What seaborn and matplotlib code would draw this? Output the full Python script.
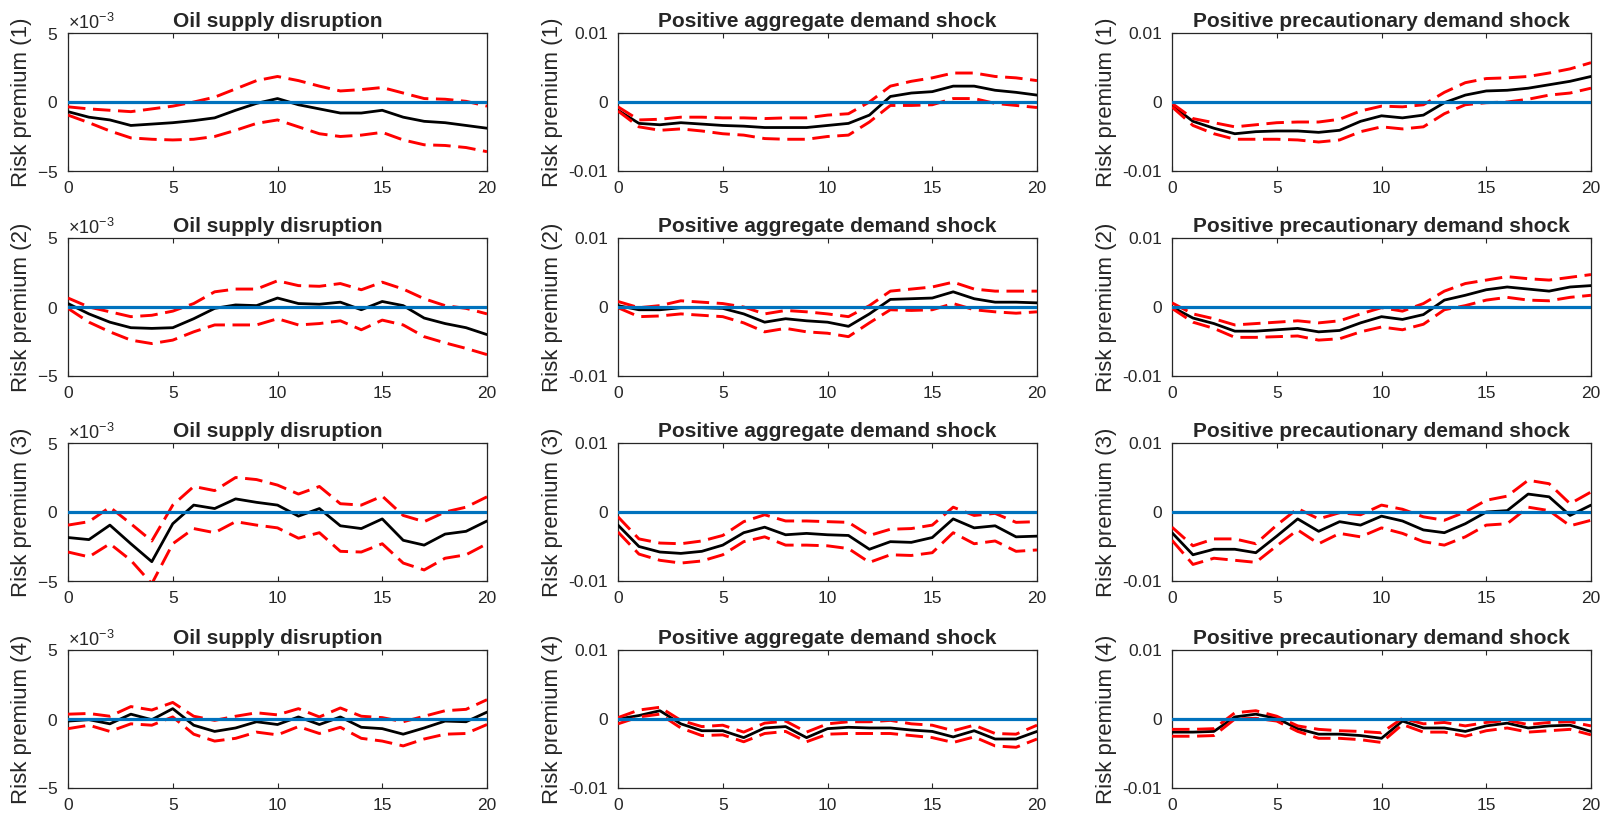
import numpy as np
import pandas as pd
import matplotlib
matplotlib.use("Agg")
import matplotlib.pyplot as plt
import seaborn as sns
from matplotlib.ticker import ScalarFormatter

# ---------------- data ----------------
horizons = list(range(21))
shock_titles = ["Oil supply disruption",
                "Positive aggregate demand shock",
                "Positive precautionary demand shock"]
row_labels = ["Risk premium (1)", "Risk premium (2)", "Risk premium (3)", "Risk premium (4)"]
x_ticks = [0, 5, 10, 15, 20]
oil_yticks = [-5e-3, 0.0, 5e-3]
dem_yticks = [-0.01, 0.0, 0.01]
dem_yticklabels = ["-0.01", "0", "0.01"]

# Row 1
oil1_mid = [-0.7e-3, -1.1e-3, -1.3e-3, -1.7e-3, -1.6e-3, -1.5e-3, -1.35e-3, -1.15e-3, -0.6e-3, -0.1e-3, 0.25e-3,
            -0.2e-3, -0.5e-3, -0.8e-3, -0.8e-3, -0.6e-3, -1.1e-3, -1.4e-3, -1.5e-3, -1.7e-3, -1.9e-3]
oil1_up = [-0.35e-3, -0.5e-3, -0.6e-3, -0.7e-3, -0.5e-3, -0.3e-3, 0.0, 0.35e-3, 0.95e-3, 1.55e-3, 1.85e-3,
           1.55e-3, 1.15e-3, 0.8e-3, 0.9e-3, 1.05e-3, 0.65e-3, 0.25e-3, 0.2e-3, 0.05e-3, -0.3e-3]
oil1_lo = [-0.95e-3, -1.5e-3, -2.1e-3, -2.6e-3, -2.7e-3, -2.75e-3, -2.7e-3, -2.5e-3, -2.05e-3, -1.55e-3, -1.3e-3,
           -1.8e-3, -2.3e-3, -2.5e-3, -2.4e-3, -2.2e-3, -2.75e-3, -3.1e-3, -3.15e-3, -3.3e-3, -3.6e-3]
agg1_mid = [-0.0012, -0.0031, -0.0033, -0.0030, -0.0032, -0.0034, -0.0035, -0.0037, -0.0037, -0.0037, -0.0034,
            -0.0031, -0.0019, 0.0008, 0.0013, 0.0015, 0.0023, 0.0023, 0.0017, 0.0014, 0.0010]
agg1_up = [-0.0007, -0.0026, -0.0025, -0.0022, -0.0022, -0.0023, -0.0023, -0.0024, -0.0023, -0.0023, -0.0019,
           -0.0017, 0.0000, 0.0023, 0.0030, 0.0035, 0.0042, 0.0042, 0.0037, 0.0035, 0.0031]
agg1_lo = [-0.0013, -0.0036, -0.0041, -0.0039, -0.0042, -0.0046, -0.0048, -0.0053, -0.0054, -0.0054, -0.0050,
           -0.0048, -0.0029, -0.0005, -0.0005, -0.0004, 0.0005, 0.0005, -0.0002, -0.0005, -0.0008]
prec1_mid = [-0.0005, -0.0028, -0.0038, -0.0046, -0.0043, -0.0042, -0.0042, -0.0044, -0.0041, -0.0028, -0.0020,
             -0.0023, -0.0019, -0.0001, 0.0010, 0.0016, 0.0017, 0.0020, 0.0025, 0.0030, 0.0037]
prec1_up = [-0.0002, -0.0024, -0.0030, -0.0036, -0.0033, -0.0030, -0.0029, -0.0029, -0.0025, -0.0013, -0.0006,
            -0.0007, -0.0004, 0.0014, 0.0028, 0.0034, 0.0035, 0.0037, 0.0042, 0.0048, 0.0057]
prec1_lo = [-0.0007, -0.0034, -0.0046, -0.0054, -0.0054, -0.0054, -0.0055, -0.0058, -0.0055, -0.0043, -0.0036,
            -0.0039, -0.0036, -0.0017, -0.0004, -0.0001, 0.0000, 0.0004, 0.0010, 0.0013, 0.0020]

# Row 2
oil2_mid = [0.25e-3, -0.5e-3, -1.1e-3, -1.5e-3, -1.55e-3, -1.5e-3, -0.85e-3, -0.1e-3, 0.15e-3, 0.1e-3, 0.65e-3,
            0.25e-3, 0.2e-3, 0.35e-3, -0.2e-3, 0.4e-3, 0.1e-3, -0.8e-3, -1.2e-3, -1.5e-3, -2.0e-3]
oil2_up = [0.65e-3, 0.0, -0.35e-3, -0.7e-3, -0.6e-3, -0.3e-3, 0.25e-3, 1.1e-3, 1.3e-3, 1.3e-3, 1.9e-3,
           1.55e-3, 1.5e-3, 1.7e-3, 1.25e-3, 1.8e-3, 1.3e-3, 0.6e-3, 0.1e-3, -0.1e-3, -0.5e-3]
oil2_lo = [-0.1e-3, -1.1e-3, -1.8e-3, -2.4e-3, -2.65e-3, -2.4e-3, -1.8e-3, -1.3e-3, -1.3e-3, -1.3e-3, -0.85e-3,
           -1.3e-3, -1.2e-3, -1.0e-3, -1.65e-3, -0.95e-3, -1.3e-3, -2.15e-3, -2.6e-3, -3.0e-3, -3.45e-3]
agg2_mid = [0.0002, -0.0004, -0.0004, -0.0001, -0.0001, -0.0002, -0.0010, -0.0022, -0.0017, -0.0020, -0.0022,
            -0.0028, -0.0010, 0.0011, 0.0012, 0.0013, 0.0022, 0.0012, 0.0007, 0.0007, 0.0006]
agg2_up = [0.0008, -0.0001, 0.0002, 0.0009, 0.0007, 0.0005, 0.0000, -0.0010, -0.0005, -0.0007, -0.0010,
           -0.0014, 0.0002, 0.0023, 0.0026, 0.0029, 0.0036, 0.0026, 0.0023, 0.0023, 0.0023]
agg2_lo = [-0.0001, -0.0014, -0.0013, -0.0010, -0.0012, -0.0014, -0.0023, -0.0036, -0.0031, -0.0036, -0.0038,
           -0.0043, -0.0023, -0.0004, -0.0005, -0.0004, 0.0005, -0.0004, -0.0007, -0.0009, -0.0007]
prec2_mid = [0.0000, -0.0016, -0.0024, -0.0035, -0.0035, -0.0033, -0.0031, -0.0036, -0.0034, -0.0023, -0.0014,
             -0.0018, -0.0011, 0.0010, 0.0017, 0.0025, 0.0029, 0.0026, 0.0023, 0.0029, 0.0031]
prec2_up = [0.0006, -0.0010, -0.0017, -0.0026, -0.0024, -0.0022, -0.0020, -0.0023, -0.0020, -0.0010, -0.0001,
            -0.0006, 0.0005, 0.0023, 0.0034, 0.0039, 0.0044, 0.0041, 0.0039, 0.0043, 0.0047]
prec2_lo = [-0.0002, -0.0022, -0.0031, -0.0044, -0.0044, -0.0043, -0.0042, -0.0048, -0.0046, -0.0036, -0.0029,
            -0.0033, -0.0025, -0.0004, 0.0002, 0.0010, 0.0014, 0.0010, 0.0009, 0.0014, 0.0017]

# Row 3
oil3_mid = [-1.85e-3, -2.0e-3, -0.95e-3, -2.3e-3, -3.6e-3, -0.85e-3, 0.5e-3, 0.25e-3, 0.95e-3, 0.7e-3, 0.5e-3,
            -0.3e-3, 0.25e-3, -1.0e-3, -1.2e-3, -0.5e-3, -2.05e-3, -2.4e-3, -1.6e-3, -1.4e-3, -0.65e-3]
oil3_up = [-0.95e-3, -0.7e-3, 0.35e-3, -0.85e-3, -2.1e-3, 0.5e-3, 1.85e-3, 1.55e-3, 2.5e-3, 2.35e-3, 1.95e-3,
           1.3e-3, 1.85e-3, 0.6e-3, 0.5e-3, 1.15e-3, -0.25e-3, -0.7e-3, 0.0, 0.35e-3, 1.1e-3]
oil3_lo = [-2.9e-3, -3.25e-3, -2.3e-3, -3.5e-3, -5.2e-3, -2.3e-3, -1.2e-3, -1.5e-3, -0.7e-3, -0.95e-3, -1.15e-3,
           -1.9e-3, -1.5e-3, -2.85e-3, -2.9e-3, -2.3e-3, -3.7e-3, -4.2e-3, -3.35e-3, -3.1e-3, -2.3e-3]
agg3_mid = [-0.0019, -0.0050, -0.0058, -0.0060, -0.0057, -0.0048, -0.0030, -0.0022, -0.0033, -0.0031, -0.0033,
            -0.0034, -0.0054, -0.0043, -0.0044, -0.0037, -0.0010, -0.0023, -0.0020, -0.0036, -0.0035]
agg3_up = [-0.0007, -0.0039, -0.0045, -0.0046, -0.0042, -0.0034, -0.0014, -0.0004, -0.0013, -0.0013, -0.0014,
           -0.0015, -0.0034, -0.0025, -0.0024, -0.0019, 0.0007, -0.0005, -0.0002, -0.0015, -0.0014]
agg3_lo = [-0.0029, -0.0061, -0.0070, -0.0074, -0.0071, -0.0062, -0.0043, -0.0036, -0.0048, -0.0048, -0.0049,
           -0.0053, -0.0073, -0.0062, -0.0063, -0.0059, -0.0030, -0.0046, -0.0042, -0.0057, -0.0055]
prec3_mid = [-0.0030, -0.0062, -0.0054, -0.0054, -0.0059, -0.0035, -0.0010, -0.0028, -0.0014, -0.0019, -0.0006,
             -0.0013, -0.0026, -0.0030, -0.0017, 0.0000, 0.0002, 0.0026, 0.0022, -0.0005, 0.0010]
prec3_up = [-0.0022, -0.0049, -0.0039, -0.0039, -0.0046, -0.0019, 0.0005, -0.0010, -0.0001, -0.0004, 0.0010,
            0.0004, -0.0007, -0.0012, 0.0000, 0.0017, 0.0023, 0.0046, 0.0041, 0.0012, 0.0029]
prec3_lo = [-0.0041, -0.0076, -0.0067, -0.0070, -0.0073, -0.0049, -0.0026, -0.0046, -0.0031, -0.0036, -0.0023,
            -0.0031, -0.0043, -0.0048, -0.0036, -0.0019, -0.0017, 0.0007, 0.0002, -0.0020, -0.0012]

# Row 4
oil4_mid = [-0.15e-3, -0.05e-3, -0.35e-3, 0.35e-3, -0.05e-3, 0.75e-3, -0.45e-3, -0.9e-3, -0.65e-3, -0.2e-3, -0.4e-3,
            0.15e-3, -0.4e-3, 0.15e-3, -0.6e-3, -0.7e-3, -1.1e-3, -0.65e-3, -0.15e-3, -0.2e-3, 0.5e-3]
oil4_up = [0.35e-3, 0.4e-3, 0.2e-3, 0.9e-3, 0.65e-3, 1.2e-3, 0.2e-3, -0.1e-3, 0.2e-3, 0.45e-3, 0.3e-3,
           0.75e-3, 0.15e-3, 0.8e-3, 0.2e-3, 0.1e-3, -0.2e-3, 0.2e-3, 0.6e-3, 0.7e-3, 1.4e-3]
oil4_lo = [-0.7e-3, -0.45e-3, -0.9e-3, -0.35e-3, -0.45e-3, 0.15e-3, -1.1e-3, -1.6e-3, -1.4e-3, -0.95e-3, -1.15e-3,
           -0.55e-3, -1.05e-3, -0.6e-3, -1.4e-3, -1.6e-3, -1.95e-3, -1.45e-3, -1.1e-3, -1.05e-3, -0.4e-3]
agg4_mid = [0.0000, 0.0005, 0.0012, -0.0007, -0.0017, -0.0017, -0.0027, -0.0013, -0.0011, -0.0027, -0.0014,
            -0.0012, -0.0013, -0.0013, -0.0016, -0.0018, -0.0026, -0.0017, -0.0029, -0.0029, -0.0018]
agg4_up = [0.0002, 0.0013, 0.0017, -0.0002, -0.0011, -0.0009, -0.0019, -0.0006, -0.0003, -0.0019, -0.0007,
           -0.0004, -0.0004, -0.0002, -0.0007, -0.0009, -0.0017, -0.0009, -0.0021, -0.0022, -0.0009]
agg4_lo = [-0.0007, 0.0003, 0.0007, -0.0013, -0.0024, -0.0023, -0.0033, -0.0021, -0.0018, -0.0033, -0.0022,
           -0.0021, -0.0021, -0.0021, -0.0024, -0.0027, -0.0034, -0.0026, -0.0039, -0.0041, -0.0029]
prec4_mid = [-0.0019, -0.0019, -0.0018, 0.0003, 0.0007, 0.0001, -0.0014, -0.0022, -0.0022, -0.0024, -0.0028,
             -0.0003, -0.0013, -0.0013, -0.0018, -0.0010, -0.0006, -0.0013, -0.0010, -0.0009, -0.0018]
prec4_up = [-0.0015, -0.0015, -0.0014, 0.0009, 0.0012, 0.0004, -0.0010, -0.0015, -0.0017, -0.0018, -0.0020,
            0.0001, -0.0007, -0.0005, -0.0010, -0.0005, -0.0002, -0.0008, -0.0005, -0.0004, -0.0010]
prec4_lo = [-0.0025, -0.0025, -0.0024, 0.0000, 0.0001, -0.0003, -0.0018, -0.0028, -0.0028, -0.0030, -0.0034,
            -0.0008, -0.0019, -0.0019, -0.0025, -0.0017, -0.0013, -0.0019, -0.0017, -0.0015, -0.0023]

panels = [
    [(oil1_mid, oil1_up, oil1_lo), (agg1_mid, agg1_up, agg1_lo), (prec1_mid, prec1_up, prec1_lo)],
    [(oil2_mid, oil2_up, oil2_lo), (agg2_mid, agg2_up, agg2_lo), (prec2_mid, prec2_up, prec2_lo)],
    [(oil3_mid, oil3_up, oil3_lo), (agg3_mid, agg3_up, agg3_lo), (prec3_mid, prec3_up, prec3_lo)],
    [(oil4_mid, oil4_up, oil4_lo), (agg4_mid, agg4_up, agg4_lo), (prec4_mid, prec4_up, prec4_lo)],
]

# ---------------- style ----------------
sns.set_theme(style="ticks")
plt.rcParams["font.family"] = ["Liberation Sans", "DejaVu Sans"]
plt.rcParams["axes.unicode_minus"] = False
plt.rcParams["mathtext.fontset"] = "custom"
plt.rcParams["mathtext.rm"] = "Liberation Sans"
plt.rcParams["mathtext.it"] = "Liberation Sans:italic"

TXT = "#262626"
W, H = 1612, 817
fig = plt.figure(figsize=(W / 100, H / 100), dpi=100)

col_left_px = [68, 618, 1172]
ax_w_px = 419
row_top_px = [33, 238, 443, 650]
ax_h_px = 138

for r in range(4):
    for c in range(3):
        left = col_left_px[c] / W
        bottom = (H - row_top_px[r] - ax_h_px) / H
        ax = fig.add_axes([left, bottom, ax_w_px / W, ax_h_px / H])
        mid, up, lo = panels[r][c]
        sns.lineplot(x=horizons, y=mid, ax=ax, color="black", lw=2.0, zorder=3,
                     solid_joinstyle="round")
        sns.lineplot(x=horizons, y=up, ax=ax, color="#ff0000", lw=2.1, zorder=3)
        ax.lines[-1].set_dashes([6.0, 2.6])
        sns.lineplot(x=horizons, y=lo, ax=ax, color="#ff0000", lw=2.1, zorder=3)
        ax.lines[-1].set_dashes([6.0, 2.6])
        ax.axhline(0, color="#0072BD", lw=2.3, zorder=4)

        ax.set_xlim(0, 20)
        ax.set_xticks(x_ticks)
        if c == 0:
            ax.set_ylim(-0.005, 0.005)
            ax.set_yticks(oil_yticks)
            fmt = ScalarFormatter(useMathText=True)
            fmt.set_powerlimits((0, 0))
            ax.yaxis.set_major_formatter(fmt)
            ax.yaxis.get_offset_text().set_fontsize(13)
            ax.yaxis.get_offset_text().set_color("#555555")
        else:
            ax.set_ylim(-0.01, 0.01)
            ax.set_yticks(dem_yticks, labels=dem_yticklabels)

        ax.tick_params(direction="in", length=3.5, width=0.8, top=True, right=True,
                       labelsize=12.5, colors="#262626", pad=7)
        for s in ax.spines.values():
            s.set_color("#262626")
            s.set_linewidth(0.9)
        ax.set_title(shock_titles[c], fontsize=15, fontweight="bold", color=TXT, pad=4)
        ax.set_ylabel(row_labels[r], fontsize=16, color=TXT, labelpad=4)
        ax.set_xlabel("")

fig.savefig("out.png", dpi=100, facecolor="white")
